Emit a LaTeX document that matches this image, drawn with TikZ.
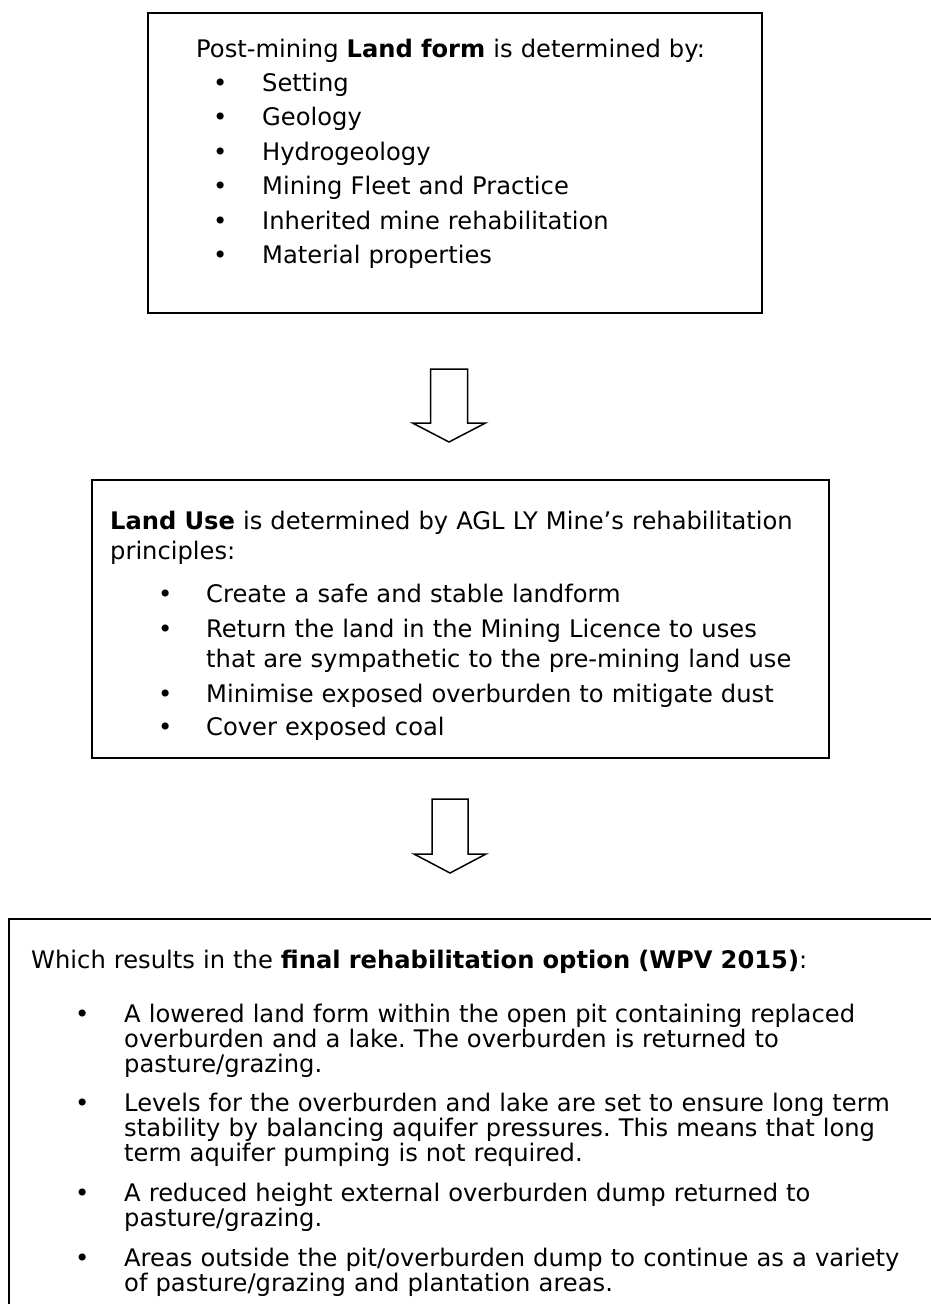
\documentclass[tikz,border=0pt]{standalone}
\usepackage{fontspec}
\setmainfont{DejaVu Sans}
\usetikzlibrary{positioning}

\tikzset{
	panel/.style={draw, line width=1.8pt, inner sep=0pt, anchor=north west},
	paneltext/.style={anchor=base west, inner sep=0pt, text width=#1, align=left, execute at begin node=\frenchspacing},
	hollowarrow/.style={draw, line width=1.5pt, line join=miter},
}
\newcommand{\dotline}[2]{\makebox[#2][l]{\hspace*{#1}\textbullet}}

\begin{document}
\begin{tikzpicture}[x=1pt,y=-1pt]
	\clip (0,0) rectangle (931,1304);
	% boxes
	\node[panel, minimum width=614pt, minimum height=300pt] (landform) at (147,12) {};
	\node[panel, minimum width=737pt, minimum height=278pt] (landuse) at (91,479) {};
	\node[panel, minimum width=960pt, minimum height=420pt] (result) at (8,918) {};
	% texts
	\node[paneltext=560pt, font=\fontsize{24.2}{34.4}\selectfont] (landformtext) at (196,57) {Post-mining \textbf{Land form} is determined by:\\
		\dotline{17pt}{66pt}Setting\\
		\dotline{17pt}{66pt}Geology\\
		\dotline{17pt}{66pt}Hydrogeology\\
		\dotline{17pt}{66pt}Mining Fleet and Practice\\
		\dotline{17pt}{66pt}Inherited mine rehabilitation\\
		\dotline{17pt}{66pt}Material properties};
	\node[paneltext=720pt, font=\fontsize{24.2}{30}\selectfont] (landusetext) at (110,529) {\textbf{Land Use} is determined by AGL LY Mine’s rehabilitation\\
		principles:\\[13pt]
		\dotline{48pt}{96pt}Create a safe and stable landform\\[5pt]
		\dotline{48pt}{96pt}Return the land in the Mining Licence to uses\\
		\hspace*{96pt}that are sympathetic to the pre-mining land use\\[5pt]
		\dotline{48pt}{96pt}Minimise exposed overburden to mitigate dust\\[3pt]
		\dotline{48pt}{96pt}Cover exposed coal};
	\node[paneltext=900pt, font=\fontsize{24.2}{25}\selectfont] (resulttext) at (31,968) {Which results in the \textbf{final rehabilitation option (WPV 2015)}:\\[29pt]
		\dotline{44pt}{93pt}A lowered land form within the open pit containing replaced\\
		\hspace*{93pt}overburden and a lake. The overburden is returned to\\
		\hspace*{93pt}pasture/grazing.\\[14pt]
		\dotline{44pt}{93pt}Levels for the overburden and lake are set to ensure long term\\
		\hspace*{93pt}stability by balancing aquifer pressures. This means that long\\
		\hspace*{93pt}term aquifer pumping is not required.\\[15pt]
		\dotline{44pt}{93pt}A reduced height external overburden dump returned to\\
		\hspace*{93pt}pasture/grazing.\\[15pt]
		\dotline{44pt}{93pt}Areas outside the pit/overburden dump to continue as a variety\\
		\hspace*{93pt}of pasture/grazing and plantation areas.};
	% block arrows
	\coordinate (arrowA) at (449,369);
	\coordinate (arrowB) at (450,799);
	\draw[hollowarrow] (arrowA) ++(-18.5,0) -- ++(37,0) -- ++(0,54) -- ++(18,0) -- ++(-36.5,19) -- ++(-36.5,-19) -- ++(18,0) -- cycle;
	\draw[hollowarrow] (arrowB) ++(-18,0) -- ++(36,0) -- ++(0,55) -- ++(18,0) -- ++(-36,19) -- ++(-36,-19) -- ++(18,0) -- cycle;
\end{tikzpicture}
\end{document}
